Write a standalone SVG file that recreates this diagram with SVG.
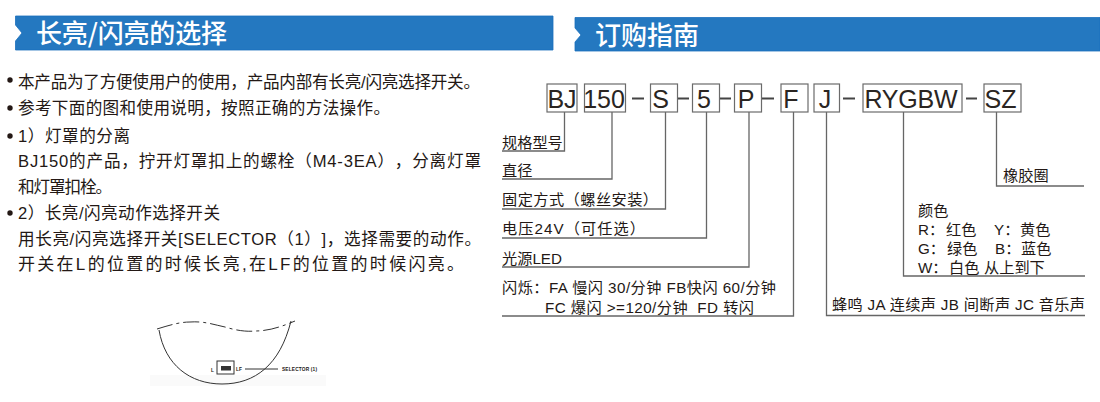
<svg xmlns="http://www.w3.org/2000/svg" width="1100" height="402" viewBox="0 0 1100 402">
<style>
text{font-family:"Liberation Sans","Noto Sans CJK SC",sans-serif;fill:#231815;text-spacing-trim:space-all}
.h{font-size:26px;fill:#fff;font-family:"Noto Sans CJK SC",sans-serif;font-weight:500}
.b{font-size:16.6px}
.l{font-size:15.2px}
.c{font-size:25px;text-anchor:middle;fill:#2a2522}
.box{fill:#fff;stroke:#6b6b6b;stroke-width:1.2}
.w{fill:none;stroke:#666;stroke-width:1.3}
.d{fill:none;stroke:#444;stroke-width:1.8}
.banner{fill:#2478c0;stroke:#1a70bc;stroke-width:.8}
.sk{fill:none;stroke:#333;stroke-width:1}
.t{font-size:4.800px;font-weight:bold}
</style>
<g id="banner-left"><path class="banner" d="M15.5 16H553V50H15.500V41L22 33 15.500 25Z"/><text class="h" x="36" y="43" textLength="191">长亮/闪亮的选择</text></g>
<g id="banner-right"><path class="banner" d="M575 17.500H1100V51H575V42L581 35 575 28Z"/><text class="h" x="595" y="44.500">订购指南</text></g>
<g id="instructions">
<circle cx="10" cy="80" r="2.700" fill="#231815"/><text class="b" x="18" y="88" textLength="462">本产品为了方便使用户的使用，产品内部有长亮/闪亮选择开关。</text>
<circle cx="10" cy="108" r="2.700" fill="#231815"/><text class="b" x="18" y="114" textLength="372">参考下面的图和使用说明，按照正确的方法操作。</text>
<circle cx="10" cy="136" r="2.700" fill="#231815"/><text class="b" x="18" y="142" textLength="112">1）灯罩的分离</text>
<text class="b" x="18" y="167" textLength="463">BJ150的产品，拧开灯罩扣上的螺栓（M4-3EA），分离灯罩</text>
<text class="b" x="18" y="193" textLength="94">和灯罩扣栓。</text>
<circle cx="10" cy="213" r="2.700" fill="#231815"/><text class="b" x="18" y="219" textLength="202">2）长亮/闪亮动作选择开关</text>
<text class="b" x="18" y="245" textLength="463">用长亮/闪亮选择开关[SELECTOR（1）]，选择需要的动作。</text>
<text class="b" x="18" y="270" textLength="446" style="font-size:17px">开关在L的位置的时候长亮,在LF的位置的时候闪亮。</text>
</g>
<g id="selector-sketch">
<rect x="150" y="375" width="176" height="11" fill="#fafafa"/>
<path class="sk" d="M157 329C170 325 180 322 190 322C205 321 215 325 225 327C235 330 245 332 255 331C270 331 283 326 295 321" stroke-dasharray="16 4 3 4"/>
<path class="sk" d="M159 330C165 365 190 384 222 384C255 384 280 365 291 321"/>
<rect x="217" y="361" width="17" height="13" fill="none" stroke="#333"/>
<rect x="221" y="366" width="10" height="4.500" fill="#333"/>
<path class="sk" d="M245 369H278"/>
<text class="t" x="211" y="372">L</text>
<text class="t" x="236" y="371">LF</text>
<text class="t" x="282" y="371" textLength="35">SELECTOR (1)</text>
</g>
<g id="connectors">
<path class="w" d="M564.500 112V151H502"/>
<path class="w" d="M612 112V179H502"/>
<path class="w" d="M665.500 112V209H502"/>
<path class="w" d="M706.500 112V238H502"/>
<path class="w" d="M749 112V267H502"/>
<path class="w" d="M793.500 112V316H502"/>
<path class="w" d="M826.500 112V315.500H1085"/>
<path class="w" d="M903.500 112V276H1085"/>
<path class="w" d="M996.500 112V186H1084"/>
<path class="d" d="M632 98.500H644M678 98.500H689M719 98.500H731M762 98.500H774M843 98.500H855M966 98.500H977"/>
</g>
<g id="code-BJ"><rect class="box" x="547" y="84" width="30" height="28"/><text class="c" x="562" y="107.500">BJ</text></g>
<g id="code-150"><rect class="box" x="584.500" y="84" width="41" height="28"/><text class="c" x="604" y="107.500">150</text></g>
<g id="code-S"><rect class="box" x="650.500" y="84" width="27" height="28"/><text class="c" x="660.500" y="107.500">S</text></g>
<g id="code-5"><rect class="box" x="692.500" y="84" width="27" height="28"/><text class="c" x="704" y="107.500">5</text></g>
<g id="code-P"><rect class="box" x="734.500" y="84" width="27" height="28"/><text class="c" x="746" y="107.500">P</text></g>
<g id="code-F"><rect class="box" x="781" y="84" width="27" height="28"/><text class="c" x="791" y="107.500">F</text></g>
<g id="code-J"><rect class="box" x="814" y="84" width="25.500" height="28"/><text class="c" x="825" y="107.500">J</text></g>
<g id="code-RYGBW"><rect class="box" x="863" y="84" width="99" height="28"/><text class="c" x="911" y="107.500" textLength="93">RYGBW</text></g>
<g id="code-SZ"><rect class="box" x="984" y="84" width="37" height="28"/><text class="c" x="1000.500" y="107.500">SZ</text></g>
<g id="labels">
<text class="l" x="502" y="148">规格型号</text>
<text class="l" x="502" y="176">直径</text>
<text class="l" x="502" y="205" textLength="156">固定方式（螺丝安装）</text>
<text class="l" x="502" y="234" textLength="143">电压24V（可任选）</text>
<text class="l" x="502" y="264">光源LED</text>
<text class="l" x="502" y="293" textLength="274">闪烁：FA 慢闪 30/分钟 FB快闪 60/分钟</text>
<text class="l" x="545" y="313" textLength="209" xml:space="preserve">FC 爆闪 &gt;=120/分钟  FD 转闪</text>
<text class="l" x="1003" y="181">橡胶圈</text>
<text class="l" x="918" y="216">颜色</text>
<text class="l" x="918" y="235">R：<tspan x="946">红色</tspan><tspan x="994">Y：</tspan><tspan x="1020">黄色</tspan></text>
<text class="l" x="918" y="254">G：<tspan x="947">绿色</tspan><tspan x="995">B：</tspan><tspan x="1021">蓝色</tspan></text>
<text class="l" x="918" y="273">W：<tspan x="949">白色</tspan><tspan x="984">从上到下</tspan></text>
<text class="l" x="832" y="310" textLength="253">蜂鸣 JA 连续声 JB 间断声 JC 音乐声</text>
</g>
</svg>
